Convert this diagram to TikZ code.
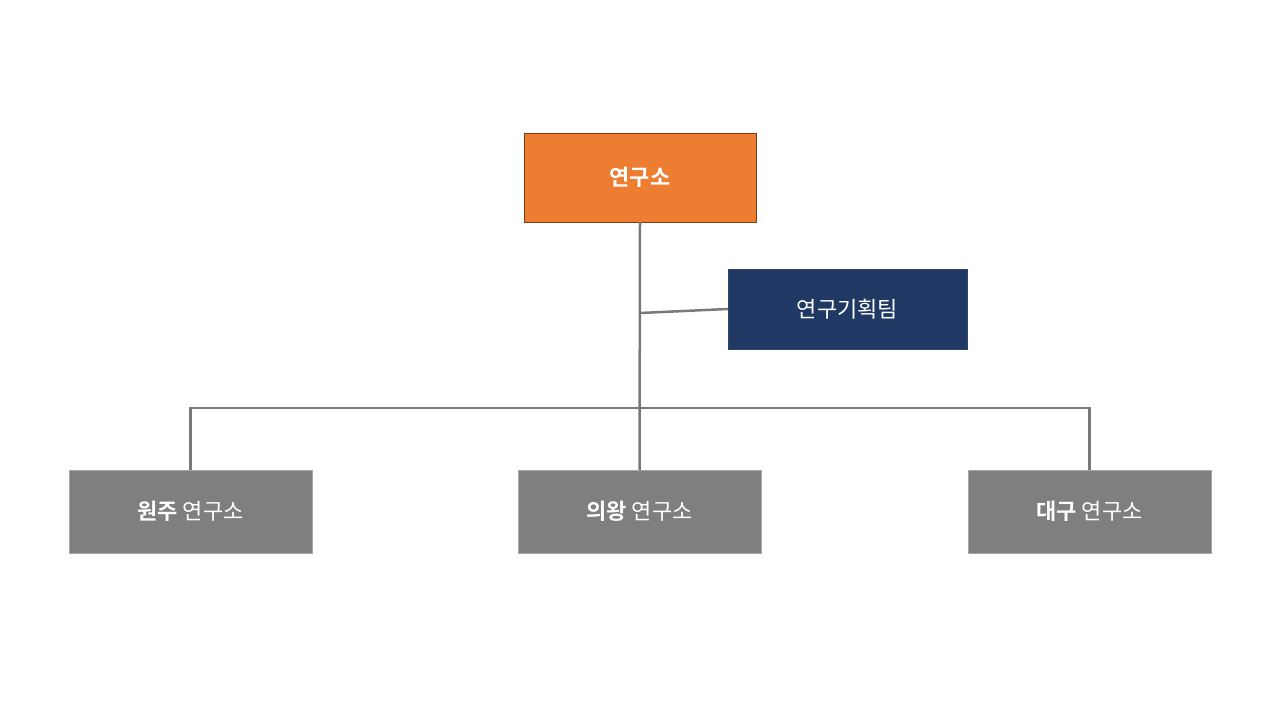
\documentclass[tikz,border=0pt]{standalone}
\usepackage{fontspec}
\newfontfamily\kr{Noto Sans CJK KR}
\newfontfamily\krb{Noto Sans CJK KR Bold}
\begin{document}
\begin{tikzpicture}[x=1pt,y=-1pt,
  box/.style={draw,minimum width=#1,inner sep=0pt,text=white,font=\kr\fontsize{22}{26}\selectfont},
  ln/.style={draw=gray!95!black,line width=2.5pt}]
\useasboundingbox (0,0) rectangle (1280,720);
\definecolor{org}{HTML}{ED7D31}\definecolor{navy}{HTML}{1F3864}\definecolor{gr}{HTML}{7F7F7F}
\node[box=232pt,minimum height=89pt,fill=org,draw=org!50!black] (top) at (640,177.5) {\krb 연구소};
\node[box=239pt,minimum height=80pt,fill=navy,draw=navy!80!gray] (team) at (847.5,309) {연구기획팀};
\node[box=243pt,minimum height=83pt,fill=gr,draw=gray!70] (b1) at (190.5,511.5) {{\krb 원주} 연구소};
\node[box=243pt,minimum height=83pt,fill=gr,draw=gray!70] (b2) at (639.5,511.5) {{\krb 의왕} 연구소};
\node[box=243pt,minimum height=83pt,fill=gr,draw=gray!70] (b3) at (1089.5,511.5) {{\krb 대구} 연구소};
\coordinate (j) at (640,313);
\coordinate (h) at (640,408);
\draw[ln] (top.south) -- (b2.north);
\draw[ln] (j) -- (team.west);
\draw[ln] (b1.north) |- (h) -| (b3.north);
\end{tikzpicture}
\end{document}
